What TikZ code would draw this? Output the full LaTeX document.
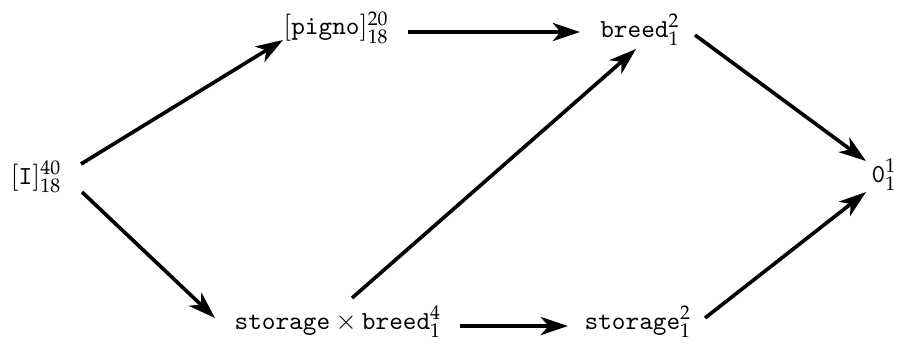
\documentclass[tikz,border=0pt]{standalone}
\usepackage{mathpazo}
\usetikzlibrary{arrows.meta}
\tikzset{
  lbl/.style={inner sep=0pt, anchor=center},
  arr/.style={line width=1.4pt, -{Stealth[length=10.5pt,width=7pt,inset=3pt]}}
}
\begin{document}
\begin{tikzpicture}[x=0.3846pt,y=0.3846pt]
\useasboundingbox (0,0) rectangle (900,-347);
\node[lbl] (I)  at (36,-177)  {$[\mathtt{I}]^{40}_{18}$};
\node[lbl] (P)  at (336,-28)  {$[\mathtt{pigno}]^{20}_{18}$};
\node[lbl] (B)  at (640,-30)  {$\mathtt{breed}^{2}_{1}$};
\node[lbl] (Z)  at (884,-175) {$\mathtt{0}^{1}_{1}$};
\node[lbl] (SB) at (338,-322) {$\mathtt{storage}\times\mathtt{breed}^{4}_{1}$};
\node[lbl] (S)  at (638,-322) {$\mathtt{storage}^{2}_{1}$};
\draw[arr] ([shift={(45,13)}]I.center) -- ([shift={(-53,-12)}]P.center);
\draw[arr] ([shift={(46,-15)}]I.center) -- ([shift={(-123,4)}]SB.center);
\draw[arr] ([shift={(72,-4)}]P.center) -- ([shift={(-60,-2)}]B.center);
\draw[arr] ([shift={(55,-5)}]B.center) -- ([shift={(-18,14)}]Z.center);
\draw[arr] ([shift={(14,24)}]SB.center) -- ([shift={(-4,-19)}]B.center);
\draw[arr] ([shift={(122,-4)}]SB.center) -- ([shift={(-70,-4)}]S.center);
\draw[arr] ([shift={(67,4)}]S.center) -- ([shift={(-18,-17)}]Z.center);
\end{tikzpicture}
\end{document}
